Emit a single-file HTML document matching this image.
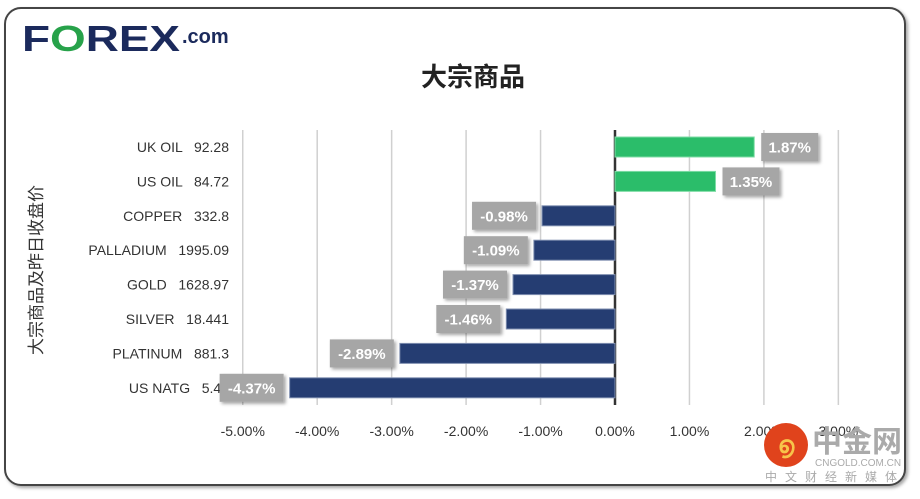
<!DOCTYPE html>
<html><head><meta charset="utf-8"><style>
body{margin:0;width:920px;height:494px;background:#fff;overflow:hidden;font-family:"Liberation Sans","Noto Sans CJK SC",sans-serif}
</style></head><body>
<svg width="920" height="494" xmlns="http://www.w3.org/2000/svg">
<defs><filter id="sh" x="-20%" y="-20%" width="150%" height="150%"><feDropShadow dx="2" dy="2" stdDeviation="1.5" flood-color="#000" flood-opacity="0.35"/></filter></defs>
<rect x="5" y="8" width="900" height="477" rx="16" fill="#fff" stroke="#444" stroke-width="2" filter="url(#sh)"/>
<g>
<text x="22" y="51" font-size="36" font-weight="bold" fill="#1b2a5c" textLength="158" lengthAdjust="spacingAndGlyphs">F<tspan fill="#27a24a">O</tspan>REX</text>
<text x="182" y="43" font-size="20" font-weight="bold" fill="#1b2a5c">.com</text>
</g>
<text x="473" y="86" font-size="26" font-weight="bold" fill="#222" text-anchor="middle">大宗商品</text>
<text transform="translate(42,270) rotate(-90)" font-size="17" fill="#333" text-anchor="middle">大宗商品及昨日收盘价</text>
<g id="grid"></g><g id="bars"></g><g id="labels"></g>
<g>
<circle cx="786" cy="445" r="22" fill="#e0431c"/>
<text x="786" y="453" font-size="24" fill="#f7c44a" text-anchor="middle" font-weight="bold">൭</text>
<text x="812" y="452" font-size="30" font-weight="bold" fill="#aaa">中金网</text>
<text x="815" y="466" font-size="10" fill="#aaa">CNGOLD.COM.CN</text>
<text x="765" y="481" font-size="12" fill="#aaa" letter-spacing="8">中文财经新媒体</text>
</g>
</svg>
<script>
const categories=["UK OIL","US OIL","COPPER","PALLADIUM","GOLD","SILVER","PLATINUM","US NATG"];
const prices=["92.28","84.72","332.8","1995.09","1628.97","18.441","881.3","5.43"];
const values=[1.87,1.35,-0.98,-1.09,-1.37,-1.46,-2.89,-4.37];
const ticks=[-5,-4,-3,-2,-1,0,1,2,3];
const NS="http://www.w3.org/2000/svg";
const x=v=>615+v*74.45;
const y=i=>147+i*34.4;
function mk(t,a,p){const e=document.createElementNS(NS,t);for(const k in a)e.setAttribute(k,a[k]);p.appendChild(e);return e;}
const G=document.getElementById('grid'),B=document.getElementById('bars'),L=document.getElementById('labels');
ticks.forEach(t=>{
 const l=mk('line',{x1:x(t),x2:x(t),y1:130,y2:405,stroke:t===0?'#333':'#d0d0d0','stroke-width':t===0?2.5:1.5},G);
 
 
 const tx=mk('text',{x:x(t),y:436,'font-size':14,fill:'#333','text-anchor':'middle'},G);
 tx.textContent=t.toFixed(2)+'%';
 
 
});
categories.forEach((c,i)=>{
 const v=values[i],cy=y(i);
 const tl=mk('text',{x:229,y:cy+5,'font-size':14,fill:'#333','text-anchor':'end',style:'white-space:pre'},L);
 tl.textContent=c+'   '+prices[i];
 
 
 const x0=Math.min(x(0),x(v)),w=Math.abs(x(v)-x(0));
 const r=mk('rect',{x:x0,y:cy-10,width:w,height:20,fill:v>=0?'#2bbd6a':'#253d72',stroke:v>=0?'#7fdca6':'#7f8fb0','stroke-width':1},B);
 
 
 const bw=v<0?64:57;
 const bx=v>=0?x(v)+7:x(v)-6-bw;
 const g=mk('g',{},L);
 
 
 mk('rect',{x:bx,y:cy-14,width:bw,height:28,fill:'#a6a6a6',filter:'url(#sh)'},g);
 const t=mk('text',{x:bx+bw/2,y:cy+5.5,'font-size':15,'font-weight':'bold',fill:'#fff','text-anchor':'middle'},g);
 t.textContent=v.toFixed(2)+'%';
});
</script>
</body></html>
